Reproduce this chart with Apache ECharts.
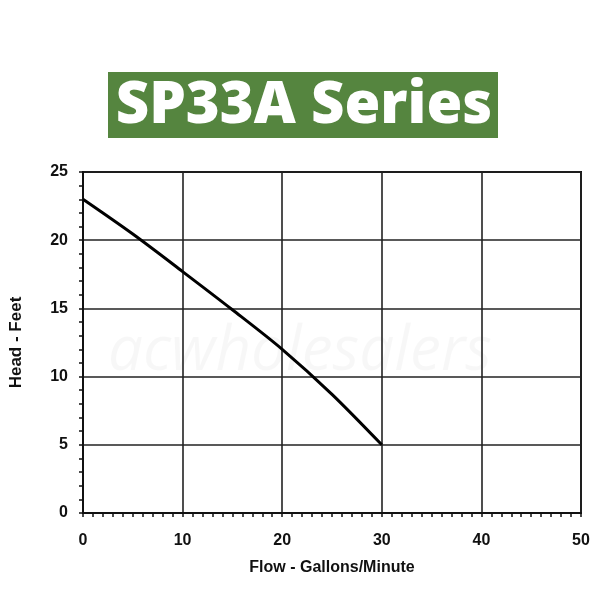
<!DOCTYPE html>
<html><head><meta charset="utf-8">
<script src="https://cdn.jsdelivr.net/npm/echarts@6/dist/echarts.min.js"></script>
<style>html,body{margin:0;padding:0;background:#fff}#c{width:600px;height:600px}</style>
</head><body><div id="c"></div>
<script>
const flow = [0, 5, 10, 15, 20, 25, 30];
const head = [23, 20.45, 17.7, 14.9, 12, 8.7, 5];
const titleText = 'SP33A Series';
const xName = 'Flow - Gallons/Minute';
const yName = 'Head - Feet';

const chart = echarts.init(document.getElementById('c'));
const lbl = {color:'#111', fontFamily:'Liberation Sans, Arial', fontSize:16, fontWeight:'bold'};
chart.setOption({
  backgroundColor:'#fff',
  animation:false,
  grid:{left:79, right:19, top:172, bottom:87, show:true, borderColor:'#111', borderWidth:2},
  graphic:[
    {type:'rect', shape:{x:108,y:72,width:390,height:66}, style:{fill:'#55853f'}, z:10},
    {type:'text', x:304, y:106, style:{text:titleText, fill:'#fff', font:'800 58px "Open Sans"', textAlign:'center', textVerticalAlign:'middle'}, z:11},
    {type:'text', x:300, y:352, style:{text:'acwholesalers', fill:'rgba(0,0,0,0.03)', font:'italic 62px "Open Sans"', textAlign:'center', textVerticalAlign:'middle'}, z:0}
  ],
  xAxis:{type:'value', min:0, max:50, interval:10,
    name:xName, nameLocation:'middle', nameGap:47,
    nameTextStyle:{color:'#111', fontFamily:'Liberation Sans, Arial', fontSize:16, fontWeight:'bold'},
    axisLine:{show:true, lineStyle:{color:'#111', width:2}},
    axisTick:{show:true, length:4, lineStyle:{color:'#111', width:1.5}},
    minorTick:{show:true, splitNumber:10, length:4, lineStyle:{color:'#111', width:1.5}},
    splitLine:{show:true, lineStyle:{color:'#222', width:1.6}},
    axisLabel:Object.assign({margin:20}, lbl)},
  yAxis:{type:'value', min:0, max:25, interval:5,
    name:yName, nameLocation:'middle', nameGap:58, nameRotate:90,
    nameTextStyle:{color:'#111', fontFamily:'Liberation Sans, Arial', fontSize:17, fontWeight:'bold'},
    axisLine:{show:true, lineStyle:{color:'#111', width:2}},
    axisTick:{show:true, length:4, lineStyle:{color:'#111', width:1.5}},
    minorTick:{show:true, splitNumber:5, length:4, lineStyle:{color:'#111', width:1.5}},
    splitLine:{show:true, lineStyle:{color:'#222', width:1.6}},
    axisLabel:Object.assign({margin:15}, lbl)},
  series:[{type:'line', data:flow.map((f,i)=>[f, head[i]]), smooth:0.3, symbol:'none',
    lineStyle:{color:'#000', width:3}, z:5}]
});
</script></body></html>
